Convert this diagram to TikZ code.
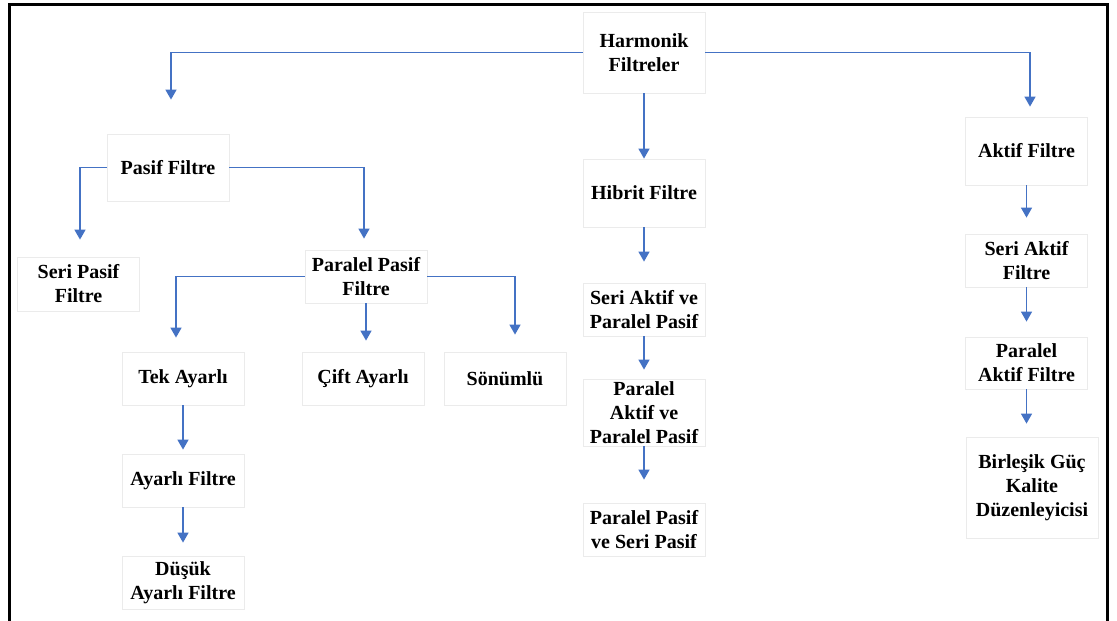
\documentclass[tikz,border=0pt]{standalone}
\usepackage{fontspec}
\setmainfont{Liberation Serif}
\usepackage{xcolor}
\usetikzlibrary{arrows.meta}
\definecolor{arrowblue}{HTML}{4472C4}

\begin{document}
\begin{tikzpicture}[x=1pt, y=-1pt,
        box/.style={draw=black!8, line width=0.8pt, minimum width=122pt, inner sep=0pt, align=center,
            font=\fontsize{20}{24}\selectfont\bfseries},
        link/.style={-{Triangle[width=11pt,length=10pt]}, draw=arrowblue, line width=1.5pt}]
        \useasboundingbox (0,0) rectangle (1117,621);
        % frame
        \draw[line width=3pt] (9.5,625) -- (9.5,4) -- (1107.5,4) -- (1107.5,625);

        % Harmonik Filtreler
        \node[box, minimum height=81pt] (harm) at (644,52.5) {Harmonik\\Filtreler};

        % Hibrit branch
        \node[box, minimum height=68pt] (hibrit) at (644,193) {Hibrit Filtre};
        \node[box, minimum height=53pt] (seriAP) at (644,309.5) {Seri Aktif ve\\Paralel Pasif};
        \node[box, minimum height=67pt] (parAP) at (644,412.5) {Paralel\\Aktif ve\\Paralel Pasif};
        \node[box, minimum height=53pt] (parPS) at (644,529.5) {Paralel Pasif\\ve Seri Pasif};

        % Pasif branch
        \node[box, minimum height=67pt] (pasif) at (168,167.5) {Pasif Filtre};
        \node[box, minimum height=54pt] (seriPasif) at (78.5,284) {Seri Pasif\\Filtre};
        \node[box, minimum height=53pt] (parPasif) at (366,276.5) {Paralel Pasif\\Filtre};
        \node[box, minimum height=53pt] (tek) at (183,378.5) {Tek Ayarlı};
        \node[box, minimum height=53pt] (ayarli) at (183,480.5) {Ayarlı Filtre};
        \node[box, minimum height=53pt] (dusuk) at (183,582.5) {Düşük\\Ayarlı Filtre};
        \node[box, minimum height=53pt] (cift) at (363,378.5) {Çift Ayarlı};
        \node[box, minimum height=53pt] (sonumlu) at (505,378.5) {Sönümlü};

        % Aktif branch
        \node[box, minimum height=68pt] (aktif) at (1026.5,151) {Aktif Filtre};
        \node[box, minimum height=53pt] (seriAktif) at (1026.5,260.5) {Seri Aktif\\Filtre};
        \node[box, minimum height=52pt] (parAktif) at (1026.5,363) {Paralel\\Aktif Filtre};
        \node[box, minimum height=101pt, minimum width=132pt] (birlesik) at (1032,487.5) {Birleşik Güç\\Kalite\\Düzenleyicisi};

        % Arrows
        \draw[link, shorten >=34pt] (harm.west) -| ([xshift=3pt]pasif.north);
        \draw[link, shorten >=10pt] (harm.east) -| ([xshift=3.5pt]aktif.north);
        \draw[link] (harm) -- (hibrit);
        \draw[link, shorten >=21pt] (hibrit) -- (seriAP);
        \draw[link, shorten >=9pt] (seriAP) -- (parAP);
        \draw[link, shorten >=23pt] (parAP) -- (parPS);

        \draw[link, shorten >=17pt] (pasif.west) -| ([xshift=1.5pt]seriPasif.north);
        \draw[link, shorten >=11pt] (pasif.east) -| ([xshift=-2pt]parPasif.north);
        \draw[link, shorten >=14pt] (parPasif.west) -| ([xshift=-7pt]tek.north);
        \draw[link, shorten >=11pt] (parPasif.south) -- (parPasif.south |- cift.north);
        \draw[link, shorten >=17pt] (parPasif.east) -| ([xshift=10pt]sonumlu.north);
        \draw[link, shorten >=4pt] (tek) -- (ayarli);
        \draw[link, shorten >=13pt] (ayarli) -- (dusuk);

        \draw[link, shorten >=16pt] (aktif) -- (seriAktif);
        \draw[link, shorten >=15pt] (seriAktif) -- (parAktif);
        \draw[link, shorten >=13pt] (parAktif.south) -- (parAktif.south |- birlesik.north);
    \end{tikzpicture}
\end{document}
